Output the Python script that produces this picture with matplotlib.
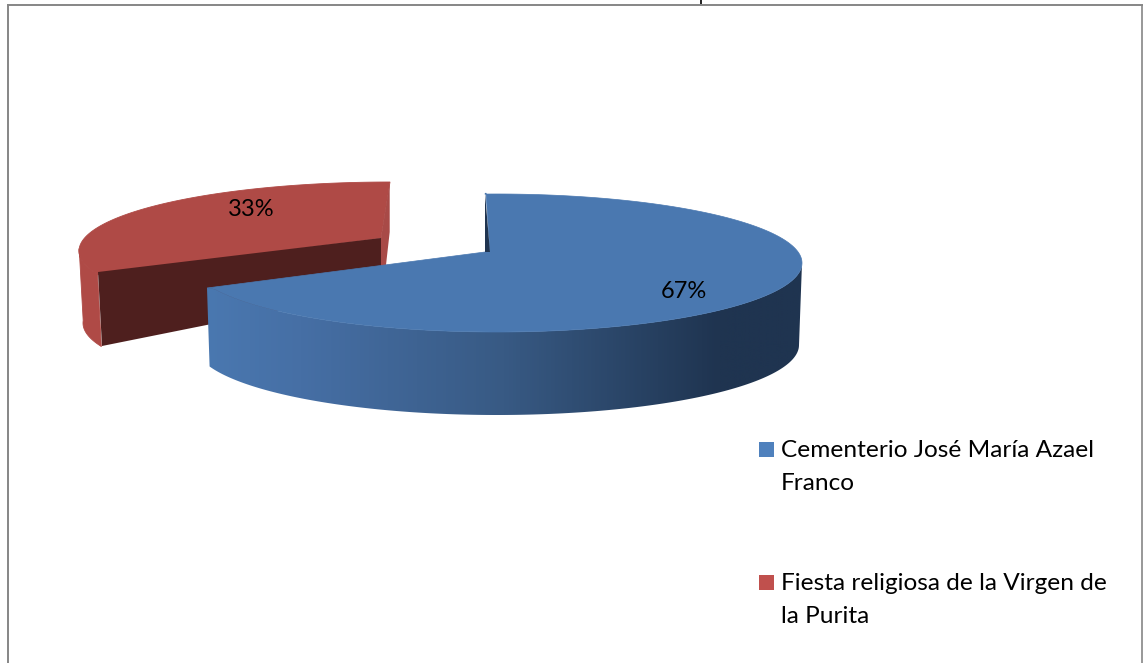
import numpy as np
import matplotlib
matplotlib.use('Agg')
import matplotlib.pyplot as plt
from matplotlib.patches import Polygon, Rectangle
from matplotlib.colors import LinearSegmentedColormap

plt.rcParams['font.family'] = ['Lato', 'DejaVu Sans']

# data
category_lines = [['Cementerio José María Azael', 'Franco'], ['Fiesta religiosa de la Virgen de', 'la Purita']]
shares = [67, 33]
pct_labels = ['67%', '33%']
legend_colors = ['#4f81bd', '#c0504d']


def arc(cx, cy, rx, ry, t0, t1, n=200):
    t = np.radians(np.linspace(t0, t1, n))
    return np.column_stack([cx + rx * np.cos(t), cy - ry * np.sin(t)])


fig = plt.figure(figsize=(11.43, 6.63), dpi=100)
ax = fig.add_axes([0, 0, 1, 1])

# the perspective stretches the slices, so degrees per percent differ from 3.6
blue_start = 92.3
blue_end = blue_start - shares[0] * 3.73
red_start = 90
red_end = red_start + shares[1] * 3.33

# red slice (pulled out, drawn first)
red_c = '#af4a46'
red_top = arc(390, 251, 311, 69, red_start, red_end)
red_apex = (381, 238)
side = np.vstack([arc(390, 251, 311, 69, 178, red_end), arc(390, 323, 307, 69, red_end, 178)])
ax.add_patch(Polygon(side, fc=red_c, ec=red_c, lw=0.6, zorder=2))
ax.add_patch(Polygon(np.vstack([red_top, [red_apex]]), fc=red_c, ec=red_c, lw=0.6, zorder=2))
ax.add_patch(Polygon([(389.7, 182.7), (389.7, 232), (386, 265), (381, 268), red_apex], fc='#a84a47', ec='none', zorder=2))
ax.add_patch(Polygon([(98, 272), red_apex, (381, 290), (102, 346)], fc='#4e1f1e', ec='none', zorder=3))

# blue slice side with the gradient
blue_tip = (207, 288)
side = np.vstack([[blue_tip], arc(497, 263, 305, 69, blue_end, 0), arc(497, 345, 302, 70, 0, blue_end - 4.5)])
clip = Polygon(side, fc='none', ec='none', zorder=4)
ax.add_patch(clip)
grad = LinearSegmentedColormap.from_list('side', [(0, '#4a78b0'), (0.16, '#466fa5'), (0.5, '#385a84'),
                                                  (0.76, '#263f5f'), (0.86, '#1f3450'), (1, '#1f3450')])
img = ax.imshow(np.linspace(0, 1, 600)[None, :], cmap=grad, extent=(205, 803, 420, 260),
                aspect='auto', zorder=4)
img.set_clip_path(clip)

# blue top and the small inner wall
blue_c = '#4a78b0'
blue_apex = (485, 252)
blue_top = arc(497, 263, 305, 69, blue_start, blue_end)
ax.add_patch(Polygon(np.vstack([blue_top, [blue_tip], [blue_apex], [(490, 252)], [(486, 193)]]),
                     fc=blue_c, ec=blue_c, lw=0.5, zorder=5))
ax.add_patch(Polygon([(485, 193), blue_apex, (490, 252)], fc='#1f3450', ec='none', zorder=6))

# percent labels
ax.text(684, 298, pct_labels[0], fontsize=17, ha='center', va='baseline', color='black', zorder=7)
ax.text(251, 216, pct_labels[1], fontsize=17, ha='center', va='baseline', color='black', zorder=7)

# legend
for y, c, lines in zip([442, 575], legend_colors, category_lines):
    ax.add_patch(Rectangle((759, y), 15, 15, fc=c, ec='none'))
    ax.text(781, y + 15, lines[0], fontsize=17.6, ha='left', va='baseline', color='black')
    ax.text(781, y + 48, lines[1], fontsize=17.6, ha='left', va='baseline', color='black')

# chart frame, bottom edge is cut off in the picture
ax.plot([8, 8], [663, 4], color='#868686', lw=1.4, solid_capstyle='butt')
ax.plot([7, 1143], [5, 5], color='#868686', lw=1.4, solid_capstyle='butt')
ax.plot([1141.5, 1141.5], [5, 663], color='#868686', lw=1.2, solid_capstyle='butt')

# title is cut off by the top of the page, only the tail of a letter shows
ax.plot([701, 701], [0, 4], color='#222222', lw=1.4, solid_capstyle='butt')

ax.set_xlim(0, 1143)
ax.set_ylim(663, 0)
ax.axis('off')

fig.savefig('out.png', dpi=100)
